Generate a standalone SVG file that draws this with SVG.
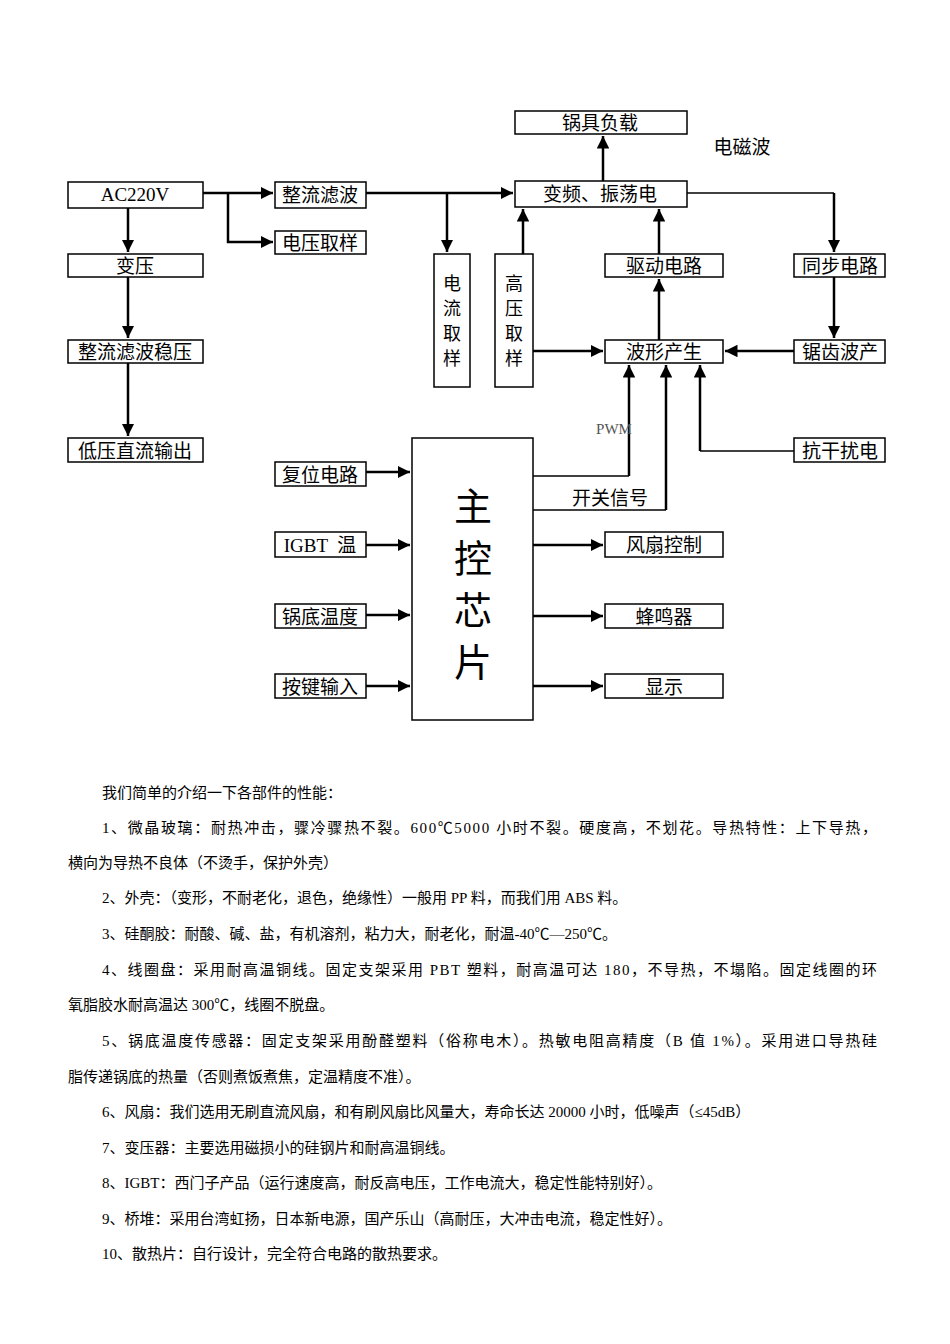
<svg xmlns="http://www.w3.org/2000/svg" width="950" height="1344" viewBox="0 0 950 1344">
<defs>
<marker id="a" viewBox="0 0 10 10" refX="10" refY="5" markerWidth="5" markerHeight="5" orient="auto"><path d="M0,0L10,5L0,10z" fill="#000"/></marker>
<style>
rect{fill:#fff;stroke:#000;stroke-width:1.5}
.t{font-family:"Noto Sans CJK SC","Liberation Sans",sans-serif;font-size:19px;text-anchor:middle}
.v{font-family:"Noto Sans CJK SC","Liberation Sans",sans-serif;font-size:18px;text-anchor:middle}
.m{font-family:"Noto Sans CJK SC","Liberation Sans",sans-serif;font-size:38px;text-anchor:middle}
.s{font-family:"Liberation Serif","Noto Sans CJK SC",serif;font-size:19px;text-anchor:middle}
.b{font-family:"Liberation Serif","Noto Sans CJK SC",serif;font-size:15px}
#c path{fill:none;stroke:#000;stroke-width:2.5}
#c path.n{stroke-width:1.5}
</style>
</defs>
<rect x="0" y="0" width="950" height="1344" style="fill:#fff;stroke:none"/>
<g id="c">
<path d="M128,208V252" marker-end="url(#a)"/>
<path d="M128,277V338" marker-end="url(#a)"/>
<path d="M128,363V436" marker-end="url(#a)"/>
<path d="M203,193H273" marker-end="url(#a)"/>
<path d="M228,193V242H273" marker-end="url(#a)"/>
<path d="M366,193H513" marker-end="url(#a)"/>
<path d="M447,193V252" marker-end="url(#a)"/>
<path d="M523,254V209" marker-end="url(#a)"/>
<path d="M603,181V136" marker-end="url(#a)"/>
<path class="n" d="M687,193H834"/>
<path d="M834,193V252" marker-end="url(#a)"/>
<path d="M834,277V338" marker-end="url(#a)"/>
<path d="M794,351H725" marker-end="url(#a)"/>
<path d="M659,254V209" marker-end="url(#a)"/>
<path d="M659,340V279" marker-end="url(#a)"/>
<path d="M533,351H603" marker-end="url(#a)"/>
<path class="n" d="M794,451H700"/>
<path d="M700,451V365" marker-end="url(#a)"/>
<path class="n" d="M533,476H629"/>
<path d="M629,476V365" marker-end="url(#a)"/>
<path class="n" d="M533,510H666"/>
<path d="M666,510V365" marker-end="url(#a)"/>
<path d="M366,472H410" marker-end="url(#a)"/>
<path d="M366,545H410" marker-end="url(#a)"/>
<path d="M366,615H410" marker-end="url(#a)"/>
<path d="M366,686H410" marker-end="url(#a)"/>
<path d="M533,545H603" marker-end="url(#a)"/>
<path d="M533,616H603" marker-end="url(#a)"/>
<path d="M533,686H603" marker-end="url(#a)"/>
</g>
<g id="n1"><rect x="68" y="182" width="135" height="26"/><text class="s" x="135" y="201">AC220V</text></g>
<g id="n2"><rect x="68" y="254" width="135" height="23"/><text class="t" x="135" y="273">变压</text></g>
<g id="n3"><rect x="68" y="340" width="135" height="23"/><text class="t" x="135" y="359">整流滤波稳压</text></g>
<g id="n4"><rect x="68" y="438" width="135" height="24"/><text class="t" x="135" y="458">低压直流输出</text></g>
<g id="n5"><rect x="275" y="182" width="91" height="26"/><text class="t" x="320" y="202">整流滤波</text></g>
<g id="n6"><rect x="275" y="231" width="91" height="23"/><text class="t" x="320" y="250">电压取样</text></g>
<g id="n7"><rect x="434" y="254" width="36" height="133"/><text class="v" x="452" y="290">电</text><text class="v" x="452" y="315">流</text><text class="v" x="452" y="340">取</text><text class="v" x="452" y="365">样</text></g>
<g id="n8"><rect x="495" y="254" width="38" height="133"/><text class="v" x="514" y="290">高</text><text class="v" x="514" y="315">压</text><text class="v" x="514" y="340">取</text><text class="v" x="514" y="365">样</text></g>
<g id="n9"><rect x="515" y="111" width="172" height="23"/><text class="t" x="600" y="130">锅具负载</text></g>
<g id="n10"><rect x="515" y="181" width="172" height="26"/><text class="t" x="600" y="201">变频、振荡电</text></g>
<text class="t" x="742" y="154">电磁波</text>
<g id="n11"><rect x="605" y="254" width="118" height="23"/><text class="t" x="664" y="273">驱动电路</text></g>
<g id="n12"><rect x="605" y="340" width="118" height="23"/><text class="t" x="664" y="359">波形产生</text></g>
<g id="n13"><rect x="794" y="254" width="91" height="23"/><text class="t" x="840" y="273">同步电路</text></g>
<g id="n14"><rect x="794" y="340" width="91" height="23"/><text class="t" x="840" y="359">锯齿波产</text></g>
<g id="n15"><rect x="794" y="438" width="91" height="24"/><text class="t" x="840" y="458">抗干扰电</text></g>
<text x="614" y="434" style="font-family:'Liberation Serif',serif;font-size:15px;text-anchor:middle;fill:#555">PWM</text>
<text class="t" x="610" y="505">开关信号</text>
<g id="n16"><rect x="412" y="438" width="121" height="282"/>
<text class="m" x="473" y="520">主</text><text class="m" x="473" y="572">控</text><text class="m" x="473" y="624">芯</text><text class="m" x="473" y="676">片</text></g>
<g id="n17"><rect x="275" y="462" width="91" height="24"/><text class="t" x="320" y="482">复位电路</text></g>
<g id="n18"><rect x="275" y="532" width="91" height="25"/><text class="s" x="320" y="552" xml:space="preserve">IGBT  温</text></g>
<g id="n19"><rect x="275" y="604" width="91" height="24"/><text class="t" x="320" y="624">锅底温度</text></g>
<g id="n20"><rect x="275" y="674" width="91" height="24"/><text class="t" x="320" y="694">按键输入</text></g>
<g id="n21"><rect x="605" y="532" width="118" height="25"/><text class="t" x="664" y="552">风扇控制</text></g>
<g id="n22"><rect x="605" y="604" width="118" height="24"/><text class="t" x="664" y="624">蜂鸣器</text></g>
<g id="n23"><rect x="605" y="674" width="118" height="24"/><text class="t" x="664" y="694">显示</text></g>
<g class="b">
<text x="102" y="798">我们简单的介绍一下各部件的性能：</text>
<text x="102" y="833" textLength="775" lengthAdjust="spacing">1、微晶玻璃：耐热冲击，骤冷骤热不裂。600℃5000 小时不裂。硬度高，不划花。导热特性：上下导热，</text>
<text x="68" y="868">横向为导热不良体（不烫手，保护外壳）</text>
<text x="102" y="903">2、外壳：（变形，不耐老化，退色，绝缘性）一般用 PP 料，而我们用 ABS 料。</text>
<text x="102" y="939">3、硅酮胶：耐酸、碱、盐，有机溶剂，粘力大，耐老化，耐温-40℃—250℃。</text>
<text x="102" y="975" textLength="775" lengthAdjust="spacing">4、线圈盘：采用耐高温铜线。固定支架采用 PBT 塑料，耐高温可达 180，不导热，不塌陷。固定线圈的环</text>
<text x="68" y="1010">氧脂胶水耐高温达 300℃，线圈不脱盘。</text>
<text x="102" y="1046" textLength="775" lengthAdjust="spacing">5、锅底温度传感器：固定支架采用酚醛塑料（俗称电木）。热敏电阻高精度（B 值 1%）。采用进口导热硅</text>
<text x="68" y="1082">脂传递锅底的热量（否则煮饭煮焦，定温精度不准）。</text>
<text x="102" y="1117">6、风扇：我们选用无刷直流风扇，和有刷风扇比风量大，寿命长达 20000 小时，低噪声（≤45dB）</text>
<text x="102" y="1153">7、变压器：主要选用磁损小的硅钢片和耐高温铜线。</text>
<text x="102" y="1188">8、IGBT：西门子产品（运行速度高，耐反高电压，工作电流大，稳定性能特别好）。</text>
<text x="102" y="1224">9、桥堆：采用台湾虹扬，日本新电源，国产乐山（高耐压，大冲击电流，稳定性好）。</text>
<text x="102" y="1259">10、散热片：自行设计，完全符合电路的散热要求。</text>
</g>
</svg>
